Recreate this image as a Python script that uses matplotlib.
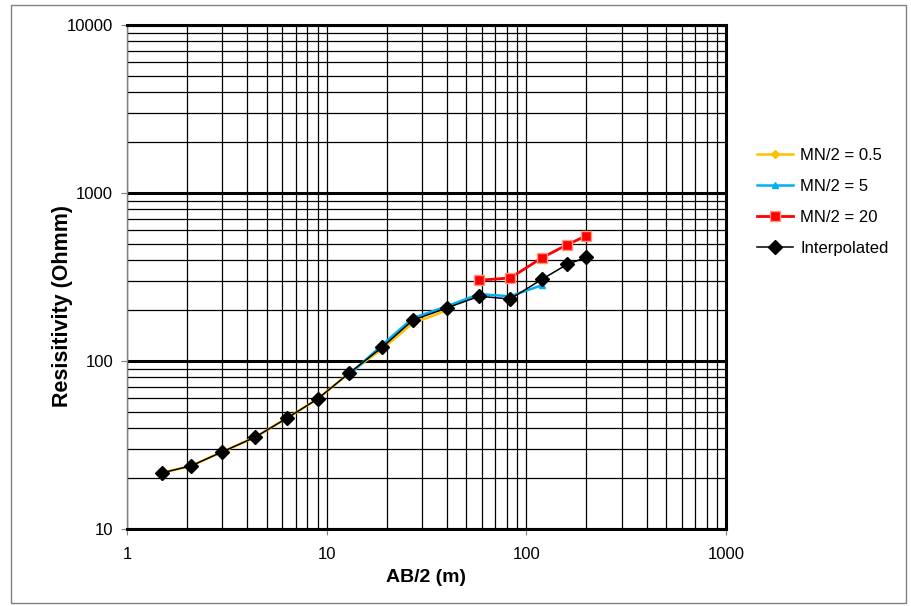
import matplotlib
matplotlib.use("Agg")
import matplotlib.pyplot as plt
from matplotlib.ticker import LogLocator, NullFormatter, FixedLocator
from matplotlib.patches import Rectangle

plt.rcParams["font.family"] = ["Liberation Sans", "DejaVu Sans"]

# data
ab2_interp = [1.5, 2.1, 3, 4.4, 6.3, 9, 13, 19, 27, 40, 58, 83, 120, 160, 200]
rho_interp = [21.6, 23.8, 28.8, 35.3, 45.6, 59.4, 85, 121, 175, 207, 243, 234, 307, 376, 414]

ab2_mn05 = [1.5, 2.1, 3, 4.4, 6.3, 9, 13, 19, 27, 40]
rho_mn05 = [21.6, 23.8, 28.8, 35.3, 45.6, 59.4, 85, 118, 168, 200]

ab2_mn5 = [13, 19, 27, 40, 58, 83, 120]
rho_mn5 = [83, 125, 180, 212, 250, 243, 283]

ab2_mn20 = [58, 83, 120, 160, 200]
rho_mn20 = [303, 312, 412, 492, 557]

fig = plt.figure(figsize=(9.11, 6.06), dpi=100)
ax = fig.add_axes([0.1394, 0.127, 0.6575, 0.8317])

ax.plot(ab2_mn05, rho_mn05, color="#FFC000", lw=1.8, marker="D", ms=4,
        label="MN/2 = 0.5", zorder=3)
ax.plot(ab2_mn5, rho_mn5, color="#00B0F0", lw=1.8, marker="^", ms=5,
        label="MN/2 = 5", zorder=3)
ax.plot(ab2_mn20, rho_mn20, color="#FF0000", lw=2, marker="s", ms=7,
        markeredgecolor="#FF9A80", markeredgewidth=1, label="MN/2 = 20", zorder=4)
ax.plot(ab2_interp, rho_interp, color="black", lw=1.1, marker="D", ms=7,
        label="Interpolated", zorder=5)

ax.set_xscale("log")
ax.set_yscale("log")
ax.set_xlim(1, 1000)
ax.set_ylim(10, 10000)

ax.xaxis.set_major_locator(FixedLocator([1, 10, 100, 1000]))
ax.yaxis.set_major_locator(FixedLocator([10, 100, 1000, 10000]))
ax.set_xticklabels(["1", "10", "100", "1000"])
ax.set_yticklabels(["10", "100", "1000", "10000"])
ax.xaxis.set_minor_locator(LogLocator(base=10, subs=range(2, 10)))
ax.yaxis.set_minor_locator(LogLocator(base=10, subs=range(2, 10)))
ax.xaxis.set_minor_formatter(NullFormatter())
ax.yaxis.set_minor_formatter(NullFormatter())
ax.tick_params(which="minor", length=0)
ax.tick_params(axis="y", which="major", direction="out", length=4, color="#808080",
               labelsize=12, pad=6)
ax.tick_params(axis="x", which="major", direction="out", length=4, color="#808080",
               labelsize=12, pad=9)

# grid: minors thin, horizontal majors thick
ax.grid(True, which="minor", axis="both", color="black", lw=0.9)
ax.grid(True, which="major", axis="x", color="black", lw=0.9)
ax.grid(True, which="major", axis="y", color="black", lw=2.2)

ax.spines["left"].set_color("#808080")
ax.spines["left"].set_linewidth(1)
for s in ["top", "bottom", "right"]:
    ax.spines[s].set_color("black")
    ax.spines[s].set_linewidth(2.2)

ax.set_xlabel("AB/2 (m)", fontsize=14, fontweight="bold")
ax.set_ylabel("Resisitivity (Ohmm)", fontsize=15.5, fontweight="bold")
ax.xaxis.set_label_coords(0.5, -0.079)
ax.yaxis.set_label_coords(-0.09, 0.442)

ax.legend(loc="upper left", bbox_to_anchor=(0.822, 0.769), bbox_transform=fig.transFigure,
          frameon=False, fontsize=12, handlelength=2.15, labelspacing=0.95,
          borderpad=0, handletextpad=0.42)

fig.patches.append(Rectangle((0.012, 0.005), 0.983, 0.987, transform=fig.transFigure,
                             fill=False, edgecolor="#808080", lw=1))

fig.savefig("out.png", dpi=100)
